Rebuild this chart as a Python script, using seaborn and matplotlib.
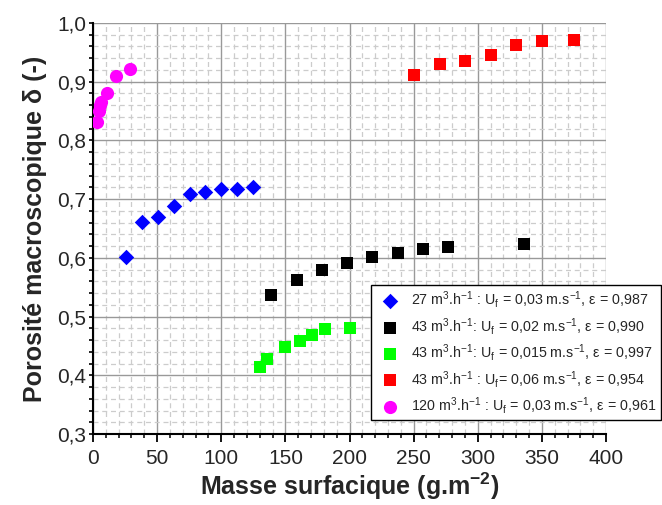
"""
Macroscopic porosity vs. surface mass for five filtration runs.
"""

import matplotlib

matplotlib.use("Agg")
import matplotlib.pyplot as plt
import pandas as pd
import seaborn as sns
from matplotlib.ticker import FuncFormatter, MultipleLocator

# --- data ------------------------------------------------------------------
mass_27 = [25.5, 38.0, 50.4, 62.9, 75.4, 87.3, 99.8, 112.3, 124.8]
poro_27 = [0.602, 0.661, 0.669, 0.689, 0.708, 0.713, 0.717, 0.717, 0.721]

mass_43a = [138.8, 158.8, 178.3, 198.1, 217.8, 237.6, 257.0, 277.0, 335.8]
poro_43a = [0.537, 0.562, 0.579, 0.592, 0.601, 0.609, 0.615, 0.619, 0.623]

mass_43b = [130.5, 135.7, 150.0, 161.6, 170.5, 180.6, 200.6]
poro_43b = [0.414, 0.427, 0.448, 0.458, 0.469, 0.479, 0.480]

mass_43c = [250.3, 270.3, 290.1, 310.1, 329.8, 349.8, 374.8]
poro_43c = [0.912, 0.931, 0.935, 0.945, 0.962, 0.970, 0.971]

mass_120 = [2.9, 4.5, 5.5, 6.5, 10.7, 18.0, 29.0]
poro_120 = [0.831, 0.850, 0.860, 0.866, 0.880, 0.909, 0.921]

labels = [
    "27 m$^{3}$.h$^{-1}$ : U$_{f}$ = 0,03 m.s$^{-1}$, ε = 0,987",
    "43 m$^{3}$.h$^{-1}$: U$_{f}$ = 0,02 m.s$^{-1}$, ε = 0,990",
    "43 m$^{3}$.h$^{-1}$: U$_{f}$ = 0,015 m.s$^{-1}$, ε = 0,997",
    "43 m$^{3}$.h$^{-1}$ : U$_{f}$= 0,06 m.s$^{-1}$, ε = 0,954",
    "120 m$^{3}$.h$^{-1}$ : U$_{f}$ = 0,03 m.s$^{-1}$, ε = 0,961",
]

series = [
    (mass_27, poro_27, "#0000ff", "D", 62),
    (mass_43a, poro_43a, "#000000", "s", 72),
    (mass_43b, poro_43b, "#00ff00", "s", 72),
    (mass_43c, poro_43c, "#ff0000", "s", 72),
    (mass_120, poro_120, "#ff00ff", "o", 90),
]

# --- style -----------------------------------------------------------------
sns.set_theme(style="white")
plt.rcParams["font.family"] = ["Liberation Sans", "DejaVu Sans"]
plt.rcParams["mathtext.fontset"] = "custom"
plt.rcParams["mathtext.rm"] = "Liberation Sans"
plt.rcParams["mathtext.it"] = "Liberation Sans:italic"
plt.rcParams["mathtext.bf"] = "Liberation Sans:bold"
plt.rcParams["mathtext.default"] = "regular"

fig = plt.figure(figsize=(6.62, 5.05), dpi=100)
ax = fig.add_axes([93 / 662, 71 / 505, 513 / 662, 411 / 505])

for (xs, ys, color, marker, size), label in zip(series, labels):
    df = pd.DataFrame({"mass": xs, "poro": ys})
    sns.scatterplot(
        data=df, x="mass", y="poro", ax=ax, color=color, marker=marker,
        s=size, linewidth=0, label=label, zorder=3,
    )

ax.set_xlim(0, 400)
ax.set_ylim(0.3, 1.0)
ax.xaxis.set_major_locator(MultipleLocator(50))
ax.xaxis.set_minor_locator(MultipleLocator(10))
ax.yaxis.set_major_locator(MultipleLocator(0.1))
ax.yaxis.set_minor_locator(MultipleLocator(0.02))
ax.yaxis.set_major_formatter(FuncFormatter(lambda v, _: f"{v:.1f}".replace(".", ",")))

ax.grid(which="major", color="#999999", linewidth=1.0, linestyle="-")
ax.grid(which="minor", color="#cccccc", linewidth=0.9, linestyle=(0, (4, 3)))
ax.set_axisbelow(True)

for side in ("top", "right"):
    ax.spines[side].set_visible(False)
for side in ("left", "bottom"):
    ax.spines[side].set_color("black")
    ax.spines[side].set_linewidth(1.5)

ax.tick_params(axis="x", which="major", direction="out", length=6, width=1.3,
               color="black", labelsize=15, bottom=True, pad=5)
ax.tick_params(axis="x", which="minor", direction="out", length=3, width=1.1,
               color="black", bottom=True)
ax.tick_params(axis="y", which="both", direction="out", length=3, width=1.2,
               color="black", labelsize=15, left=True, pad=2)

ax.set_xlabel("Masse surfacique (g.m$^{-2}$)", fontsize=18, fontweight="bold", labelpad=2)
ax.set_ylabel("Porosité macroscopique δ (-)", fontsize=18, fontweight="bold", labelpad=7)

leg = ax.legend(
    loc="upper left", bbox_to_anchor=(371 / 662, 1 - 285 / 505),
    bbox_transform=fig.transFigure, fontsize=10.3, frameon=True, fancybox=False,
    framealpha=1, edgecolor="black", borderpad=0.3, labelspacing=0.38,
    handletextpad=0.5, borderaxespad=0, scatterpoints=1,
)
leg.get_frame().set_linewidth(1.0)

fig.savefig("out.png", dpi=100)
